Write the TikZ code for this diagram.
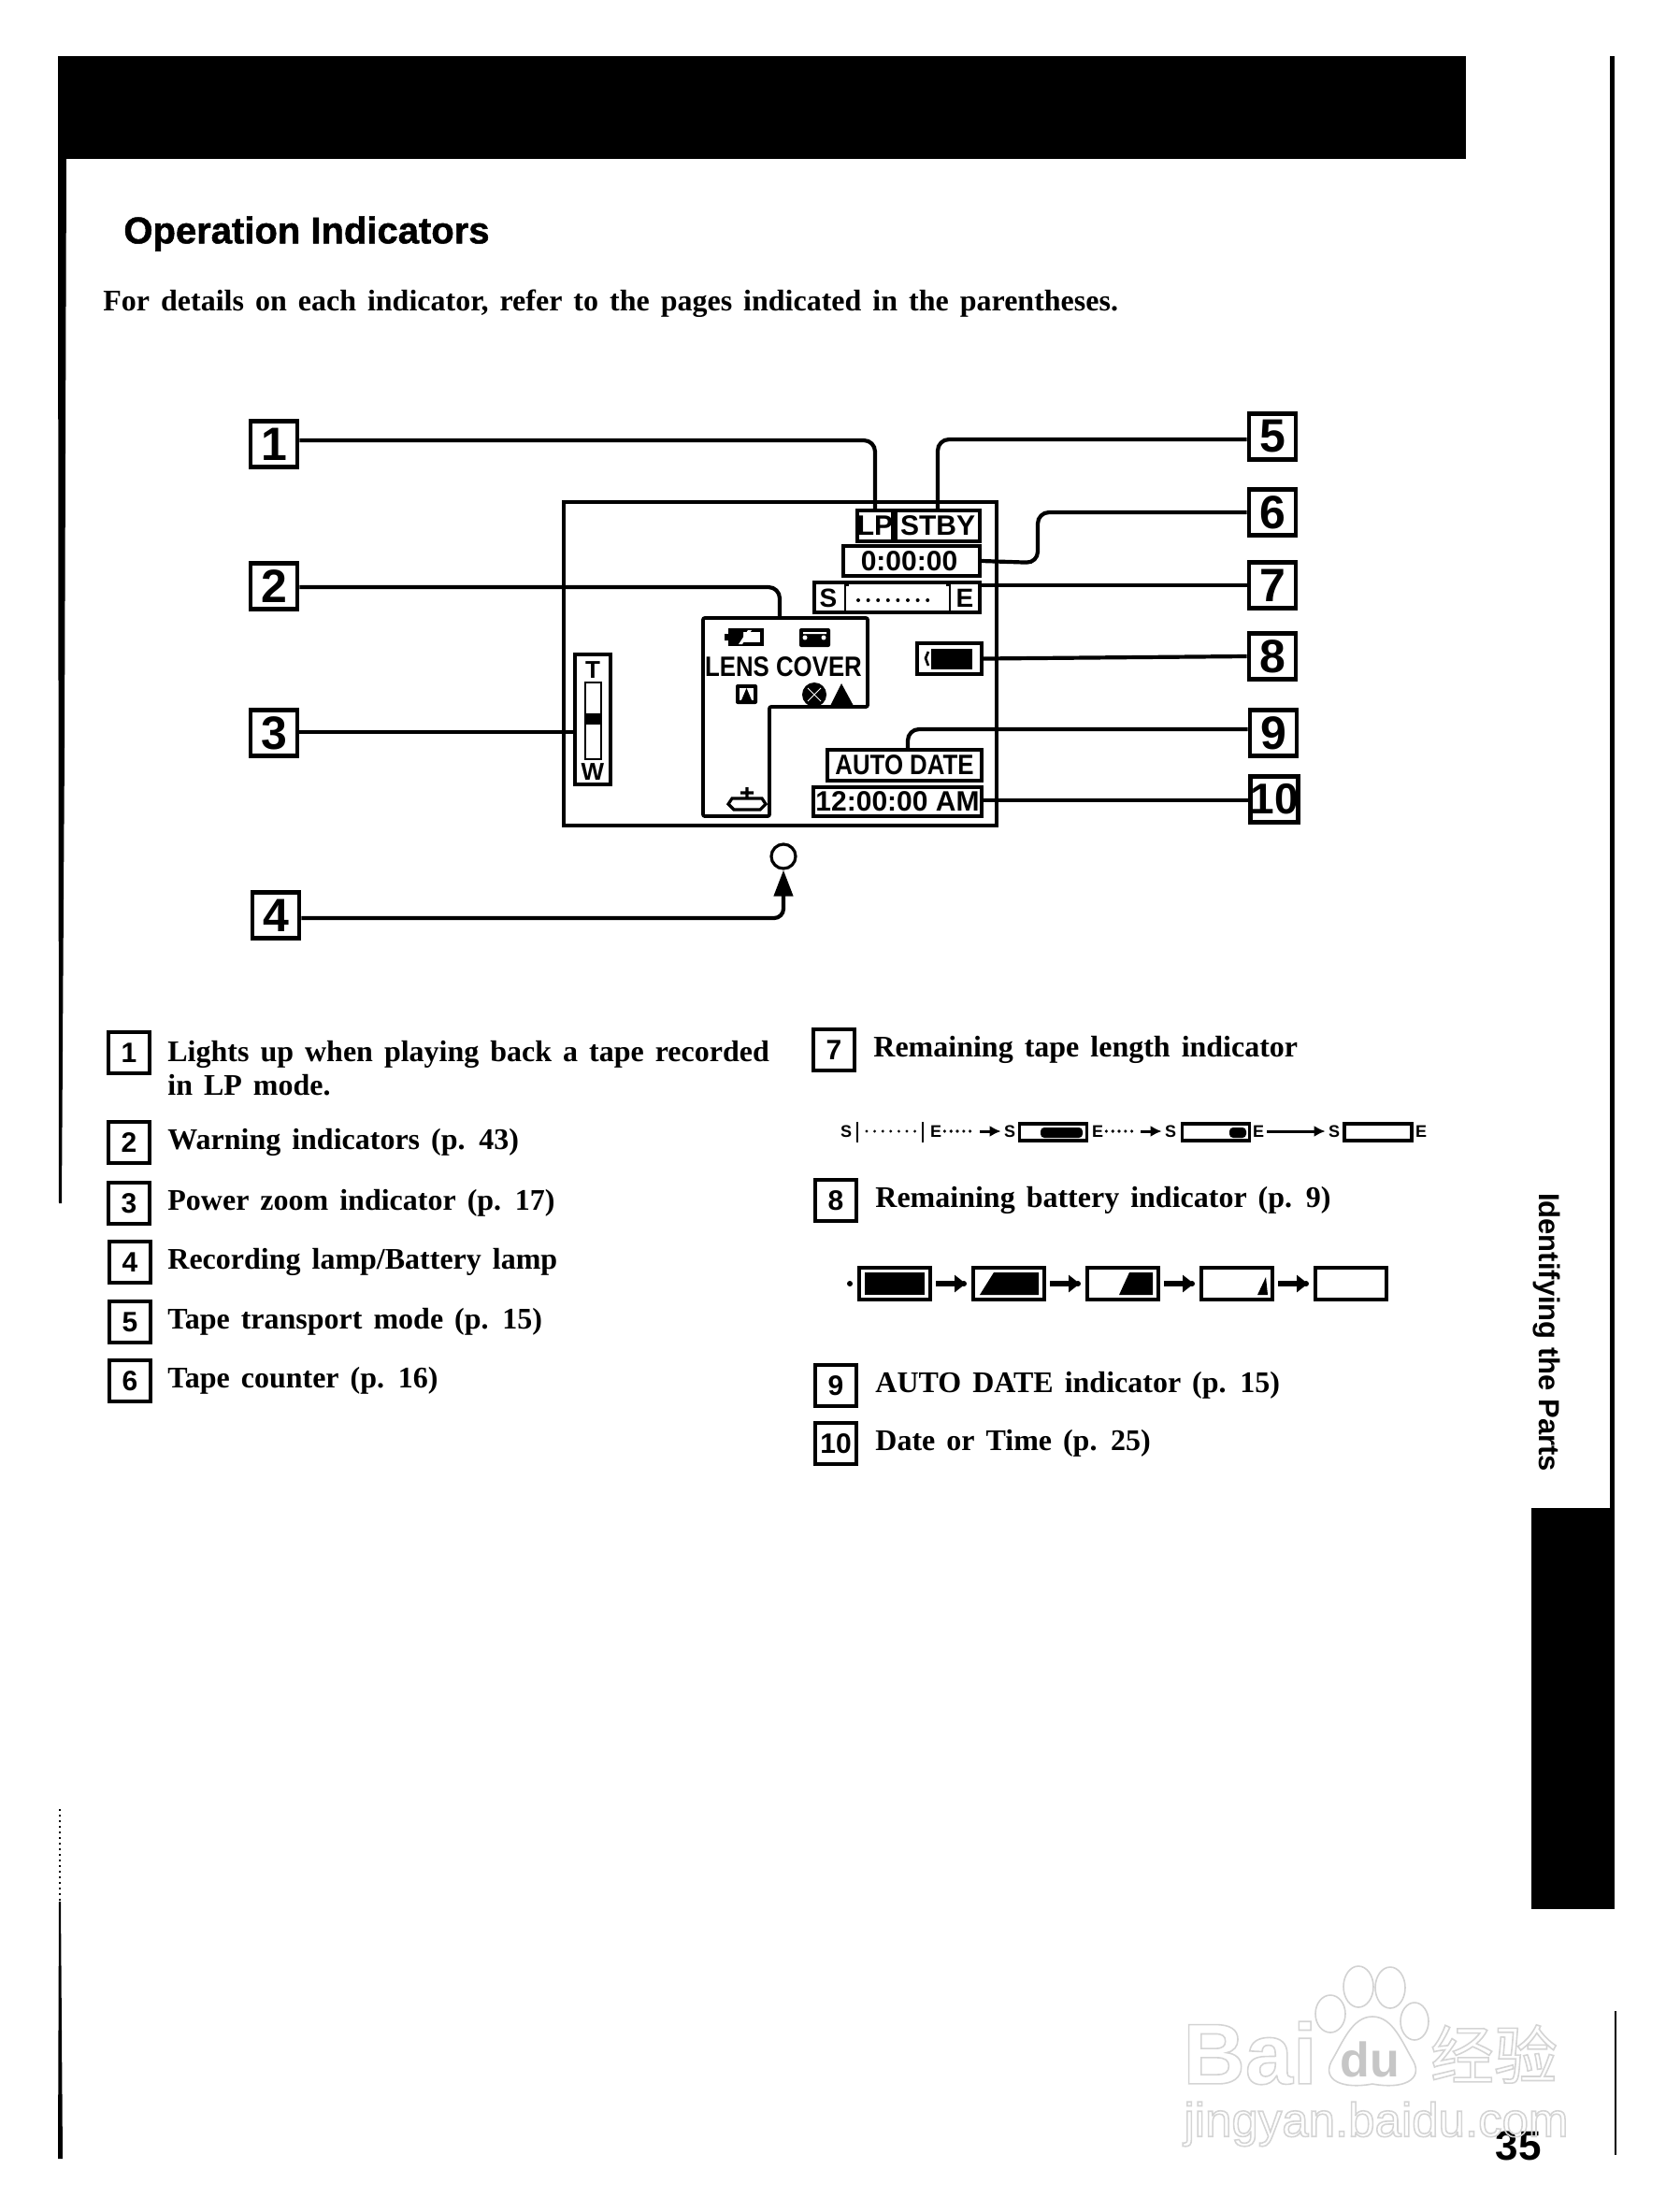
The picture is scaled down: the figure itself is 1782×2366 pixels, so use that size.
\documentclass[tikz,border=0pt]{standalone}
\usepackage{fontspec}
\setmainfont{Liberation Serif}[WordSpace=1.5]
\setsansfont{Liberation Sans}
\newfontfamily\narrowfont{Liberation Sans}[FakeStretch=0.86]
\newfontfamily\headfont{Liberation Sans}[FakeBold=1.2]
\newfontfamily\cjkfont{Noto Sans CJK SC}
\newcommand{\outlinetext}[1]{\special{pdf:code q 1 Tr 0.83 G 0.8 w}#1\special{pdf:code Q}}
\usetikzlibrary{arrows.meta, positioning}

\begin{document}
\begin{tikzpicture}[
        x=0.5pt, y=-0.5pt,
        numbox/.style={rectangle, draw, line width=2.4pt, minimum width=25pt, minimum height=24.5pt, inner sep=0pt, font=\sffamily\bfseries\fontsize{25}{25}\selectfont},
        keybox/.style={rectangle, draw, line width=2pt, minimum width=22pt, minimum height=22pt, inner sep=0pt, font=\sffamily\bfseries\fontsize{15}{15}\selectfont},
        keytext/.style={inner sep=0pt, align=left, font=\bfseries\fontsize{16}{18}\selectfont},
        lcd/.style={rectangle, draw, line width=1.8pt, inner sep=0pt, font=\sffamily\bfseries\fontsize{15}{15}\selectfont},
        lcdnarrow/.style={lcd, font=\narrowfont\bfseries\fontsize{15}{15}\selectfont},
        leader/.style={line width=2.1pt, rounded corners=6pt},
        tapecell/.style={rectangle, draw, line width=1.6pt, minimum width=36pt, minimum height=9pt, inner sep=0pt},
        tapemark/.style={inner sep=0pt, font=\sffamily\bfseries\fontsize{9}{9}\selectfont},
        tapelink/.style={line width=1.8pt, line cap=round, dash pattern=on 0pt off 3.4pt, shorten >=1.5pt, shorten <=1.5pt},
        tapehead/.style={-{Latex[length=6pt,width=6pt]}, line width=1.5pt, shorten >=1.5pt, shorten <=1.5pt},
        cell/.style={rectangle, draw, line width=2pt, minimum width=38pt, minimum height=17pt, inner sep=0pt},
        cellstep/.style={-{Triangle[length=6pt,width=9pt]}, line width=3.4pt, shorten >=3pt, shorten <=2pt}
    ]
        \useasboundingbox (0,0) rectangle (1782,2366);

        % Page furniture
        \fill (62,60) rectangle (1568,170);
        \fill (62,170) -- (71,170) -- (69,800) -- (66,1287) -- (63,1287) -- cycle;
        \fill (1722,60) rectangle (1727,1613);
        \fill (1638,1613) rectangle (1727,2042);
        \draw[line width=1pt] (1728,2151) -- (1728,2305);
        \draw[line width=1pt, dotted] (63.5,1935) -- (63.5,2034);
        \fill (63,2034) -- (65,2034) -- (67,2309) -- (62,2309) -- cycle;

        % Titles
        \node[anchor=west, inner sep=0pt, font=\headfont\bfseries\fontsize{20}{20}\selectfont] (title) at (132,250) {Operation Indicators};
        \node[anchor=west, keytext] (intro) at (110,325) {For details on each indicator, refer to the pages indicated in the parentheses.};

        % Display
        \draw[line width=1.9pt] (603,537) rectangle (1066,883);
        \node[lcd, minimum width=19pt, minimum height=16.5pt] (lp) at (936,562.5) {LP};
        \node[lcd, minimum width=45pt, minimum height=16.5pt] (stby) at (1003,562.5) {STBY};
        \node[lcd, minimum width=73pt, minimum height=16pt] (counter) at (975,600) {\hfill 0:00:00\,};
        \node[lcd, minimum width=88.5pt, minimum height=16pt] (tapebar) at (959.5,639) {};
        \node[tapemark, font=\sffamily\bfseries\fontsize{14}{14}\selectfont] (tapeS) at (886,640) {S};
        \node[tapemark, font=\sffamily\bfseries\fontsize{14}{14}\selectfont] (tapeE) at (1032,640) {E};
        \draw[line width=1.4pt] (908,626) -- (904,626) -- (904,654) -- (908,654);
        \draw[line width=1.4pt] (1012,626) -- (1016,626) -- (1016,654) -- (1012,654);
        \draw[line width=2pt, line cap=round, dash pattern=on 0pt off 5.3pt] (918,642) -- (1002,642);
        \node[lcd, minimum width=34.5pt, minimum height=16.5pt] (meter) at (1015.5,704.5) {};
        \fill (996,694) rectangle (1040,716);
        \draw[line width=1.3pt] (993,697) -- (990,704) -- (993,712);
        \node[lcdnarrow, minimum width=82.5pt, minimum height=16.5pt] (autodate) at (967.5,818.5) {AUTO DATE};
        \node[lcd, minimum width=90pt, minimum height=15.5pt] (clock) at (960,857.5) {12:00:00 AM};

        % Warning panel
        \draw[line width=1.9pt, rounded corners=1pt] (752,661) -- (928,661) -- (928,756) -- (823,756) -- (823,873) -- (752,873) -- cycle;
        \coordinate (warntop) at (834,661);
        \node[inner sep=0pt, font=\narrowfont\bfseries\fontsize{15}{15}\selectfont] (lens) at (838,713) {LENS COVER};
        \draw[line width=1.8pt] (781,674) rectangle (815,689);
        \fill (781,674) rectangle (795,689) (775,678) rectangle (781,685);
        \fill[white] (790,689) -- (800,674) -- (804,674) -- (794,689) -- cycle;
        \fill[rounded corners=1pt] (855,672) rectangle (888,692);
        \fill[white] (859,676) rectangle (884,678) (861,682) circle (2.5) (881,682) circle (2.5);
        \fill[rounded corners=1pt] (787,732) rectangle (810,753);
        \fill[white] (791,736) rectangle (806,749);
        \fill (798.5,736) -- (804,749) -- (793,749) -- cycle;
        \fill (871,743) circle (13);
        \draw[white, line width=0.5pt] (864,736) -- (878,750) (878,736) -- (864,750);
        \fill (900,731) -- (913,755) -- (888,755) -- cycle;
        \draw[line width=1.6pt] (799,842) -- (799,854) (792,848) -- (806,848) (783,854) -- (815,854) -- (819,860) -- (813,866) -- (785,866) -- (779,860) -- cycle;

        % Zoom scale
        \node[lcd, minimum width=19pt, minimum height=69.5pt] (zoombar) at (634,769.5) {};
        \node[tapemark, font=\sffamily\bfseries\fontsize{13}{13}\selectfont] (zoomT) at (634,717) {T};
        \node[tapemark, font=\sffamily\bfseries\fontsize{13}{13}\selectfont] (zoomW) at (634,826) {W};
        \draw[line width=1.4pt] (626,730) rectangle (643,812);
        \fill (626,763) rectangle (643,775);

        % Lamp
        \node[circle, draw, line width=1.6pt, minimum size=13pt, inner sep=0pt] (lamp) at (838,916) {};

        % Numbered boxes, left
        \node[numbox] (n1) at (293,475) {1};
        \node[numbox] (n2) at (293,627) {2};
        \node[numbox] (n3) at (293,784) {3};
        \node[numbox] (n4) at (295,979) {4};

        % Numbered boxes, right
        \node[numbox] (n5) at (1361,467) {5};
        \node[numbox] (n6) at (1361,548) {6};
        \node[numbox] (n7) at (1361,626) {7};
        \node[numbox] (n8) at (1361,702) {8};
        \node[numbox] (n9) at (1362,784) {9};
        \node[numbox, inner xsep=0pt] (n10) at (1363,855) {\fontsize{23}{23}\selectfont 10};

        % Leaders
        \draw[leader] (n1.east |- 0,471) -| (lp.north);
        \draw[leader] (n5.west |- 0,470) -| (stby.north);
        \draw[leader] (counter.east) -- (1110,602) -- (1110,548) -- (n6.west);
        \draw[leader] (n7.west) -- (tapebar.north east |- n7.west);
        \draw[leader] (meter.east) -- (n8.west);
        \draw[leader] (n2.east |- 0,628) -| (warntop);
        \draw[leader] (n3.east |- 0,783) -- (zoombar.west |- 0,783);
        \draw[leader] (n9.west |- 0,780) -| (autodate.north -| 971,0);
        \draw[leader] (clock.east |- 0,856) -- (n10.west |- 0,856);
        \draw[leader, -{Triangle[length=14pt,width=10pt]}, rounded corners=5pt] (n4.east |- 0,982) -| (lamp.south);

        % Key, left column
        \node[keybox] (k1) at (138,1126) {1};
        \node[keytext, right=8.5pt of k1, yshift=-8.5pt] (t1) {Lights up when playing back a tape recorded\\in LP mode.};
        \node[keybox] (k2) at (138,1222) {2};
        \node[keytext, right=8.5pt of k2] (t2) {Warning indicators (p. 43)};
        \node[keybox] (k3) at (138,1287) {3};
        \node[keytext, right=8.5pt of k3] (t3) {Power zoom indicator (p. 17)};
        \node[keybox] (k4) at (139,1350) {4};
        \node[keytext, right=8pt of k4] (t4) {Recording lamp/Battery lamp};
        \node[keybox] (k5) at (139,1414) {5};
        \node[keytext, right=8pt of k5] (t5) {Tape transport mode (p. 15)};
        \node[keybox] (k6) at (139,1477) {6};
        \node[keytext, right=8pt of k6] (t6) {Tape counter (p. 16)};

        % Key, right column
        \node[keybox] (k7) at (892,1123) {7};
        \node[keytext, right=9pt of k7] (t7) {Remaining tape length indicator};
        \node[keybox] (k8) at (894,1284) {8};
        \node[keytext, right=9pt of k8] (t8) {Remaining battery indicator (p. 9)};
        \node[keybox] (k9) at (894,1482) {9};
        \node[keytext, right=9pt of k9] (t9) {AUTO DATE indicator (p. 15)};
        \node[keybox] (k10) at (894,1544) {10};
        \node[keytext, right=9pt of k10] (t10) {Date or Time (p. 25)};

        % Tape strip
        \node[tapemark] (s1) at (905,1210) {S};
        \draw[line width=1.1pt] (917,1200) -- (917,1222);
        \draw[line width=1.6pt, line cap=round, dash pattern=on 0pt off 4.3pt] (927,1210) -- (980,1210);
        \draw[line width=1.1pt] (987,1200) -- (987,1222);
        \node[tapemark] (e1) at (1001,1210) {E};
        \node[tapemark] (s2) at (1080,1210) {S};
        \node[tapecell] (cell1) at (1126.5,1211) {};
        \node[tapemark] (e2) at (1174,1210) {E};
        \node[tapemark] (s3) at (1252,1210) {S};
        \node[tapecell] (cell2) at (1300.5,1211) {};
        \node[tapemark] (e3) at (1346,1210) {E};
        \node[tapemark] (s4) at (1427,1210) {S};
        \node[tapecell] (cell3) at (1474,1211) {};
        \node[tapemark] (e4) at (1520,1210) {E};
        \fill[rounded corners=2pt] (1113,1206) rectangle (1158,1217);
        \fill[rounded corners=2pt] (1315,1206) rectangle (1333,1217);
        \draw[tapelink] (e1) -- (1045,1210);
        \draw[tapehead] (1045,1210) -- (s2);
        \draw[tapelink] (e2) -- (1217,1210);
        \draw[tapehead] (1217,1210) -- (s3);
        \draw[tapehead] (e3) -- (s4);

        % Battery strip
        \node[cell] (bat1) at (957,1373) {};
        \node[cell] (bat2) at (1079,1373) {};
        \node[cell] (bat3) at (1201,1373) {};
        \node[cell] (bat4) at (1323,1373) {};
        \node[cell] (bat5) at (1445,1373) {};
        \foreach \batname in {bat1, bat2, bat3, bat4, bat5} {
            \fill ([xshift=-4pt]\batname.west) circle (3);
            \draw[cellstep, draw=none] (\batname.west) -- (\batname.west);
        }
        \fill (925,1361) rectangle (989,1385);
        \fill (1048,1385) -- (1063,1361) -- (1111,1361) -- (1111,1385) -- cycle;
        \fill (1197,1385) -- (1208,1361) -- (1233,1361) -- (1233,1385) -- cycle;
        \fill (1345,1385) -- (1354,1366) -- (1356,1385) -- cycle;
        \draw[cellstep] (bat1) -- (bat2);
        \draw[cellstep] (bat2) -- (bat3);
        \draw[cellstep] (bat3) -- (bat4);
        \draw[cellstep] (bat4) -- (bat5);

        % Tab text and folio
        \node[rotate=-90, inner sep=0pt, font=\sffamily\bfseries\fontsize{15.5}{16}\selectfont] (tabtext) at (1654,1425) {Identifying the Parts};
        \node[inner sep=0pt, font=\sffamily\bfseries\fontsize{22}{22}\selectfont] (folio) at (1624,2295) {35};

        % Watermark
        \node[inner sep=0pt, font=\sffamily\bfseries\fontsize{46}{46}\selectfont] (wmbai) at (1337,2196) {\outlinetext{Bai}};
        \node[inner sep=0pt, font=\cjkfont\fontsize{34}{34}\selectfont] (wmcjk) at (1598,2197) {\outlinetext{经验}};
        \node[inner sep=0pt, font=\sffamily\fontsize{25.5}{26}\selectfont] (wmurl) at (1472,2272) {\outlinetext{jingyan.baidu.com}};
        \node[inner sep=0pt, font=\sffamily\bfseries\fontsize{26}{26}\selectfont, gray!45] (wmdu) at (1465,2203) {du};
        \draw[gray!35, line width=0.8pt] (1423,2154) ellipse (16 and 20) (1453,2125) ellipse (16 and 22) (1487,2126) ellipse (16 and 22) (1513,2162) ellipse (15 and 20);
        \draw[gray!35, line width=0.8pt] (1468,2157) .. controls (1490,2157) and (1500,2185) .. (1512,2205) .. controls (1522,2225) and (1500,2235) .. (1468,2229) .. controls (1436,2235) and (1414,2225) .. (1424,2205) .. controls (1436,2185) and (1446,2157) .. (1468,2157) -- cycle;

    \end{tikzpicture}
\end{document}
